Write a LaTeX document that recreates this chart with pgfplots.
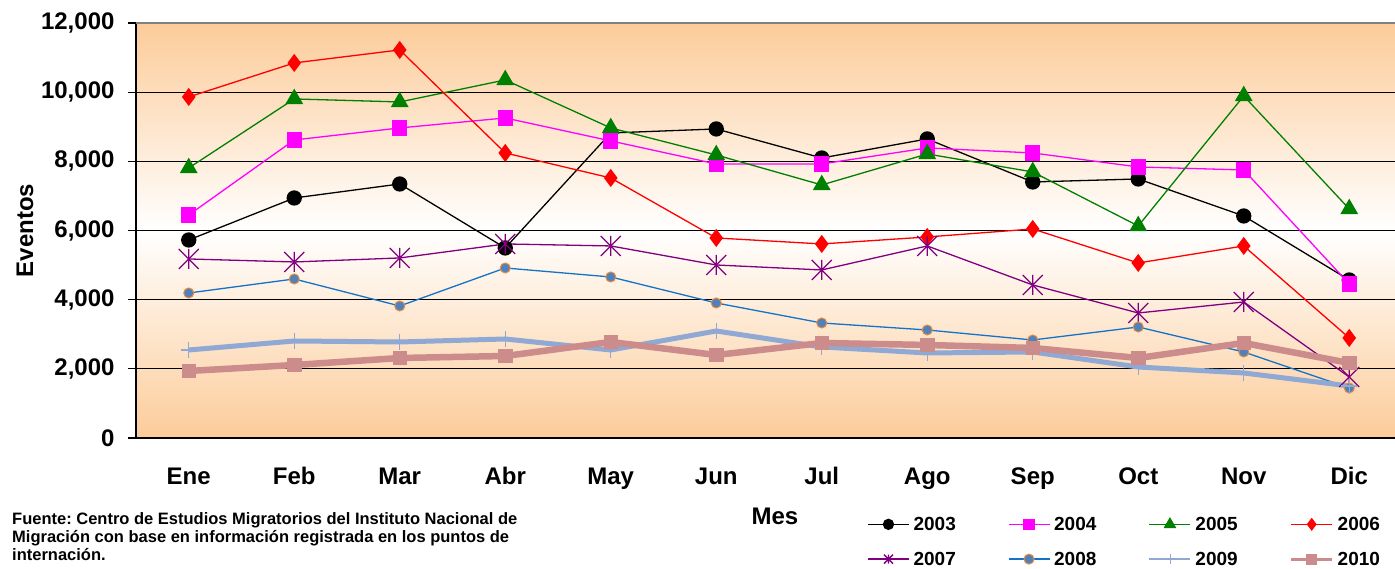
\documentclass[border=0pt]{standalone}
\usepackage{pgfplots}
\pgfplotsset{compat=1.18}
\usepackage{fontspec}
\setmainfont{Liberation Sans}
\usetikzlibrary{plotmarks}
\definecolor{bgorange}{RGB}{252,204,154}
\definecolor{c2004}{RGB}{255,0,255}
\definecolor{c2005}{RGB}{0,128,0}
\definecolor{c2006}{RGB}{255,0,0}
\definecolor{c2007}{RGB}{128,0,128}
\definecolor{c2008}{RGB}{20,115,200}
\definecolor{c2008f}{RGB}{79,129,189}
\definecolor{c2008e}{RGB}{230,138,60}
\definecolor{c2009}{RGB}{143,168,212}
\definecolor{c2010}{RGB}{204,140,140}
\pgfdeclareplotmark{xstar}{%
  \pgfpathmoveto{\pgfqpoint{0pt}{\pgfplotmarksize}}%
  \pgfpathlineto{\pgfqpoint{0pt}{-\pgfplotmarksize}}%
  \pgfpathmoveto{\pgfqpoint{-\pgfplotmarksize}{\pgfplotmarksize}}%
  \pgfpathlineto{\pgfqpoint{\pgfplotmarksize}{-\pgfplotmarksize}}%
  \pgfpathmoveto{\pgfqpoint{-\pgfplotmarksize}{-\pgfplotmarksize}}%
  \pgfpathlineto{\pgfqpoint{\pgfplotmarksize}{\pgfplotmarksize}}%
  \pgfusepathqstroke}
\frenchspacing
\begin{document}
\begin{tikzpicture}[x=1pt,y=1pt]
\useasboundingbox (0,0) rectangle (1395,569);
\begin{axis}[
  at={(136pt,131pt)}, anchor=south west,
  scale only axis, width=1266pt, height=415pt,
  xmin=-0.5, xmax=11.5, ymin=0, ymax=12000,
  xtick={0,...,11},
  xticklabels={Ene,Feb,Mar,Abr,May,Jun,Jul,Ago,Sep,Oct,Nov,Dic},
  xtick style={draw=none},
  minor xtick={-0.5,0.5,...,11.5},
  ytick={0,2000,...,12000},
  scaled y ticks=false,
  ymajorgrids, grid style={black, line width=1.3pt},
  tick align=outside, major tick length=8pt, minor tick length=8pt,
  tick style={black, line width=1.3pt},
  axis x line*=bottom, axis y line*=left,
  axis line style={black, line width=2pt, -},
  axis background/.style={top color=bgorange, bottom color=bgorange, middle color=white},
  /pgf/number format/1000 sep={,},
  /pgf/number format/assume math mode=true,
  ticklabel style={font=\fontsize{24}{28}\selectfont\bfseries},
  xticklabel style={yshift=-18pt},
  yticklabel style={xshift=-10pt},
  ylabel={Eventos}, xlabel={Mes},
  label style={font=\fontsize{24}{28}\selectfont\bfseries},
  ylabel style={at={(axis description cs:-0.0877,0.5)}, anchor=center, rotate=0},
  xlabel style={at={(axis description cs:0.5047,-0.19)}, anchor=center},
  clip=false,
  legend columns=4,
  legend cell align=left,
  legend style={at={(axis description cs:0.5775,-0.185)}, anchor=north west, draw=none, fill=none,
    font=\fontsize{19}{22}\selectfont\bfseries, inner sep=0pt, row sep=16pt,
    nodes={inner xsep=4pt},
    /tikz/every even column/.append style={column sep=48pt}},
  legend image code/.code={\draw[mark repeat=2,mark phase=2] plot coordinates {(0pt,0pt) (20.5pt,0pt) (41pt,0pt)};},
]
\addplot[forget plot, black, line width=1.3pt, mark=*, mark size=7pt] coordinates {
(0,5726) (1,6940) (2,7345) (3,5495) (4,8820) (5,8936) (6,8097) (7,8647) (8,7403) (9,7490) (10,6420) (11,4569)};
\addplot[forget plot, c2004, line width=1.3pt, mark=square*, mark size=7pt] coordinates {
(0,6449) (1,8618) (2,8965) (3,9254) (4,8590) (5,7924) (6,7924) (7,8387) (8,8242) (9,7837) (10,7750) (11,4454)};
\addplot[forget plot, c2005, line width=1.3pt, mark=triangle*, mark size=9pt] coordinates {
(0,7808) (1,9804) (2,9717) (3,10353) (4,8965) (5,8184) (6,7317) (7,8213) (8,7693) (9,6131) (10,9890) (11,6623)};
\addplot[forget plot, c2006, line width=1.3pt, mark=diamond*, mark size=8pt] coordinates {
(0,9862) (1,10845) (2,11221) (3,8242) (4,7519) (5,5784) (6,5611) (7,5813) (8,6044) (9,5061) (10,5553) (11,2892)};
\addplot[forget plot, c2007, line width=1.3pt, mark=xstar, mark size=10pt] coordinates {
(0,5177) (1,5090) (2,5206) (3,5611) (4,5553) (5,5003) (6,4859) (7,5553) (8,4425) (9,3615) (10,3933) (11,1764)};
\addplot[forget plot, c2008, line width=1.3pt, mark=*, mark size=5pt, mark options={fill=c2008f, draw=c2008e, line width=1pt}] coordinates {
(0,4193) (1,4598) (2,3817) (3,4916) (4,4656) (5,3904) (6,3326) (7,3123) (8,2834) (9,3210) (10,2487) (11,1446)};
\addplot[forget plot, c2009, line width=5pt, mark=+, mark size=8pt, mark options={line width=1.2pt}] coordinates {
(0,2545) (1,2805) (2,2776) (3,2863) (4,2545) (5,3094) (6,2632) (7,2458) (8,2487) (9,2053) (10,1880) (11,1504)};
\addplot[forget plot, c2010, line width=6.5pt, mark=square*, mark size=4pt] coordinates {
(0,1938) (1,2111) (2,2313) (3,2371) (4,2776) (5,2400) (6,2747) (7,2690) (8,2603) (9,2313) (10,2747) (11,2169)};
\draw[gray, line width=2pt] (rel axis cs:0,1) -- (rel axis cs:1,1);
\addlegendimage{black, line width=1.3pt, mark=*, mark size=5pt}
\addlegendentry{2003}
\addlegendimage{c2004, line width=1.3pt, mark=square*, mark size=5pt}
\addlegendentry{2004}
\addlegendimage{c2005, line width=1.3pt, mark=triangle*, mark size=6pt}
\addlegendentry{2005}
\addlegendimage{c2006, line width=1.3pt, mark=diamond*, mark size=5.5pt}
\addlegendentry{2006}
\addlegendimage{c2007, line width=1.3pt, mark=xstar, mark size=4.5pt}
\addlegendentry{2007}
\addlegendimage{c2008, line width=1.3pt, mark=*, mark size=5pt, mark options={fill=c2008f, draw=c2008e, line width=1pt}}
\addlegendentry{2008}
\addlegendimage{c2009, line width=2pt, mark=+, mark size=5pt, mark options={line width=0.8pt}}
\addlegendentry{2009}
\addlegendimage{c2010, line width=3pt, mark=square*, mark size=4pt}
\addlegendentry{2010}
\end{axis}
\node[anchor=north west, inner sep=0pt, align=left, font=\fontsize{16.5}{18}\selectfont\bfseries] at (12,57)
{Fuente: Centro de Estudios Migratorios del Instituto Nacional de\\
Migración con base en información registrada en los puntos de\\
internación.};
\end{tikzpicture}
\end{document}
